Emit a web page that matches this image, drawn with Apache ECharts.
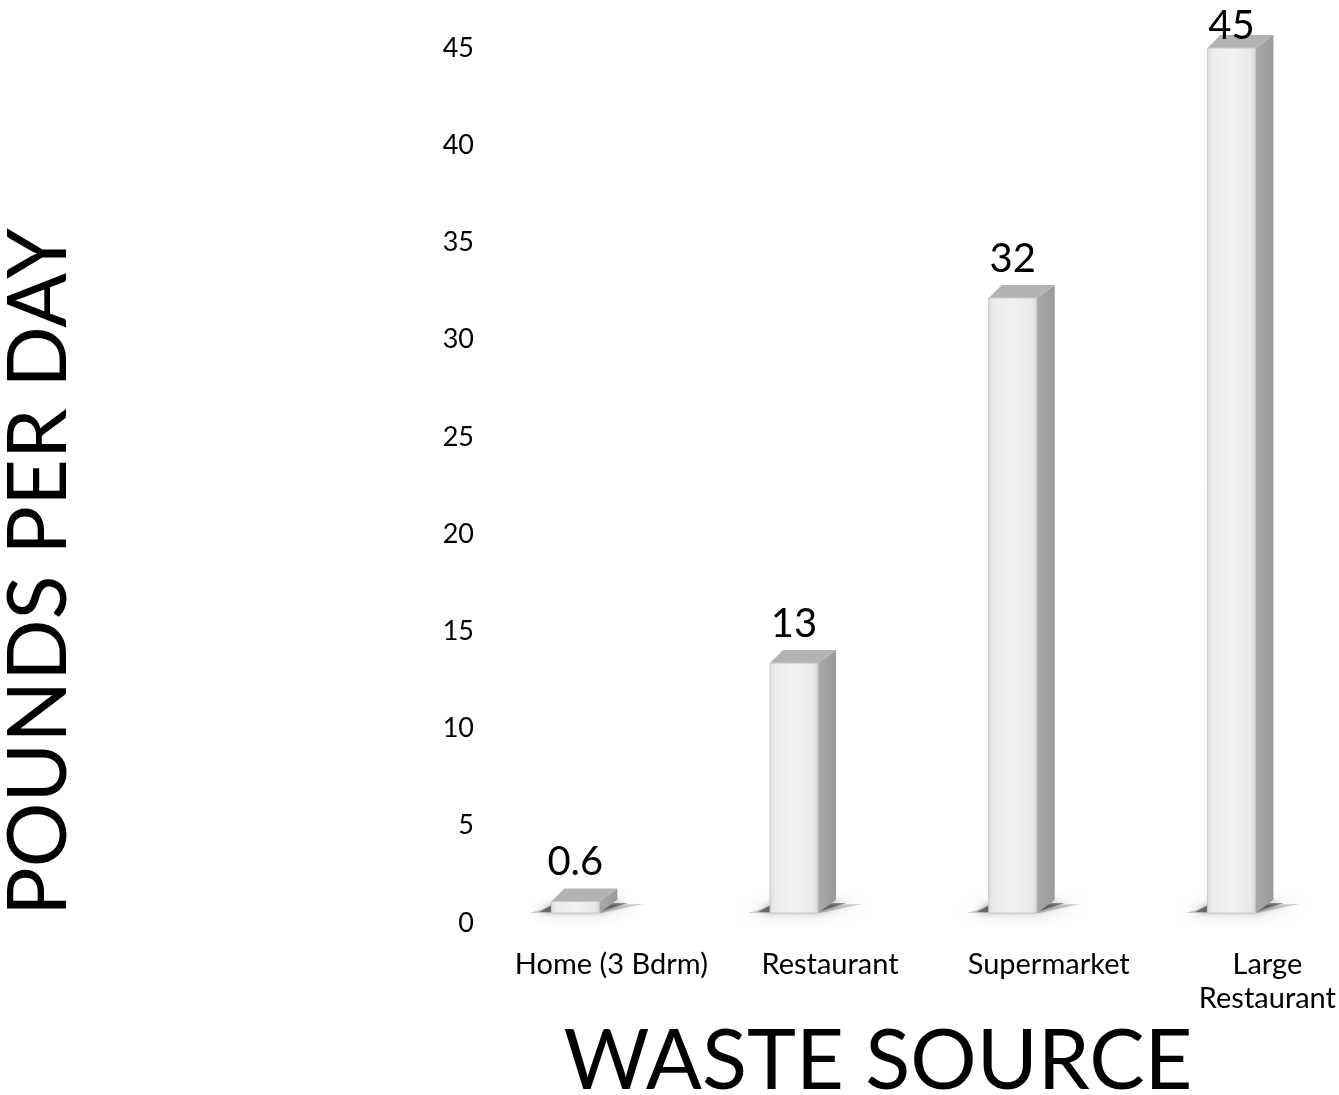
<!DOCTYPE html>
<html>
<head>
<meta charset="utf-8">
<title>Pounds per day by waste source</title>
<script src="https://cdn.jsdelivr.net/npm/echarts@6/dist/echarts.min.js"></script>
<style>
  html, body { margin: 0; padding: 0; background: #ffffff; }
  #chart { width: 1339px; height: 1095px; }
</style>
</head>
<body>
<div id="chart"></div>
<script>
// Daily waste by source (pounds per day)
const categories = ['Home (3 Bdrm)', 'Restaurant', 'Supermarket', 'Large\nRestaurant'];
const poundsPerDay = [0.6, 13, 32, 45];
const valueLabels = ['0.6', '13', '32', '45'];
const yTicks = [0, 5, 10, 15, 20, 25, 30, 35, 40, 45];

const FONT = 'Lato, "Open Sans", sans-serif';
const chart = echarts.init(document.getElementById('chart'));

// The last category band runs past the right edge of the canvas, so the
// x axis is a value axis whose visible range ends part way through that band.
const X_MIN = -0.5;
const X_MAX = 3.322;

// Box geometry (pixels): front face width, left offset from category centre,
// floor lift of the front plane and the depth offsets of the back edge.
const BOX = { width: 48, offset: -60, lift: 10, dxL: 13, dxR: 18, dy: -13 };

function renderBox(params, api) {
  const idx = api.value(0);
  const val = api.value(1);
  const p0 = api.coord([idx, 0]);
  const pv = api.coord([idx, val]);
  const pMax = api.coord([idx, yTicks[yTicks.length - 1]]);
  // front plane: floor raised by BOX.lift, top of the axis range unchanged
  const bottom = p0[1] - BOX.lift;
  const top = bottom - (p0[1] - pv[1]) * (bottom - pMax[1]) / (p0[1] - pMax[1]);
  const x0 = p0[0] + BOX.offset;
  const x1 = x0 + BOX.width;
  const backTop = top + BOX.dy;

  // soft cast shadow on the floor around the base
  const shadowFar = {
    type: 'polygon',
    shape: { points: [
      [x0 - 22, bottom], [x1 + 2, bottom],
      [x1 + BOX.dxR + 26, bottom + BOX.dy + 4], [x0 + 2, bottom + BOX.dy + 6]
    ] },
    style: {
      fill: 'rgba(90,90,90,0.3)',
      shadowBlur: 16,
      shadowColor: 'rgba(0,0,0,0.55)'
    },
    silent: true
  };
  const shadowNear = {
    type: 'polygon',
    shape: { points: [
      [x0 - 12, bottom - 1], [x1, bottom - 1],
      [x1 + BOX.dxR + 10, bottom + BOX.dy + 3], [x0 + 2, bottom + BOX.dy + 4]
    ] },
    style: {
      fill: 'rgba(50,50,50,0.55)',
      shadowBlur: 6,
      shadowColor: 'rgba(0,0,0,0.6)'
    },
    silent: true
  };
  const side = {
    type: 'polygon',
    shape: { points: [
      [x1, top], [x1 + BOX.dxR, backTop], [x1 + BOX.dxR, bottom + BOX.dy], [x1, bottom]
    ] },
    style: {
      fill: new echarts.graphic.LinearGradient(0, 0, 1, 0, [
        { offset: 0, color: '#a9a9a9' },
        { offset: 1, color: '#9a9a9a' }
      ])
    }
  };
  const lid = {
    type: 'polygon',
    shape: { points: [
      [x0, top], [x1, top], [x1 + BOX.dxR, backTop], [x0 + BOX.dxL, backTop]
    ] },
    style: { fill: '#b3b3b3' }
  };
  const front = {
    type: 'rect',
    shape: { x: x0, y: top, width: BOX.width, height: Math.max(bottom - top, 1) },
    style: {
      fill: new echarts.graphic.LinearGradient(0, 0, 1, 0, [
        { offset: 0, color: '#dcdcdc' },
        { offset: 0.12, color: '#ececec' },
        { offset: 0.5, color: '#f2f2f2' },
        { offset: 0.88, color: '#ebebeb' },
        { offset: 1, color: '#d6d6d6' }
      ]),
      stroke: '#c8c8c8',
      lineWidth: 1
    }
  };
  const label = {
    type: 'text',
    style: {
      text: valueLabels[params.dataIndex],
      x: (x0 + x1) / 2,
      y: Math.max(backTop - 26, 26),
      align: 'center',
      verticalAlign: 'middle',
      font: '40px ' + FONT,
      fill: '#000000'
    },
    z2: 10
  };
  return { type: 'group', children: [shadowFar, shadowNear, side, lid, front, label] };
}

chart.setOption({
  backgroundColor: '#ffffff',
  animation: false,
  grid: { left: 502, top: 48, right: 0, height: 875, containLabel: false },
  xAxis: {
    type: 'value',
    min: X_MIN,
    max: X_MAX,
    axisLine: { show: false },
    axisTick: { show: false },
    splitLine: { show: false },
    axisLabel: {
      customValues: categories.map((c, i) => i),
      formatter: (v) => categories[Math.round(v)],
      margin: 25,
      fontFamily: FONT,
      fontSize: 29,
      lineHeight: 34,
      color: '#000000'
    }
  },
  yAxis: {
    type: 'value',
    min: yTicks[0],
    max: yTicks[yTicks.length - 1],
    interval: yTicks[1] - yTicks[0],
    axisLine: { show: false },
    axisTick: { show: false },
    splitLine: { show: false },
    axisLabel: {
      margin: 28,
      fontFamily: FONT,
      fontSize: 27,
      color: '#000000'
    }
  },
  graphic: [
    {
      type: 'text',
      x: 40,
      y: 572,
      rotation: Math.PI / 2,
      style: {
        text: 'POUNDS PER DAY',
        align: 'center',
        verticalAlign: 'middle',
        font: '81px ' + FONT,
        fill: '#000000'
      }
    },
    {
      type: 'text',
      x: 878,
      y: 1062,
      style: {
        text: 'WASTE SOURCE',
        align: 'center',
        verticalAlign: 'middle',
        font: '83px ' + FONT,
        fill: '#000000'
      }
    }
  ],
  series: [{
    type: 'custom',
    renderItem: renderBox,
    encode: { x: 0, y: 1 },
    data: poundsPerDay.map((v, i) => [i, v]),
    clip: false
  }]
});
</script>
</body>
</html>
